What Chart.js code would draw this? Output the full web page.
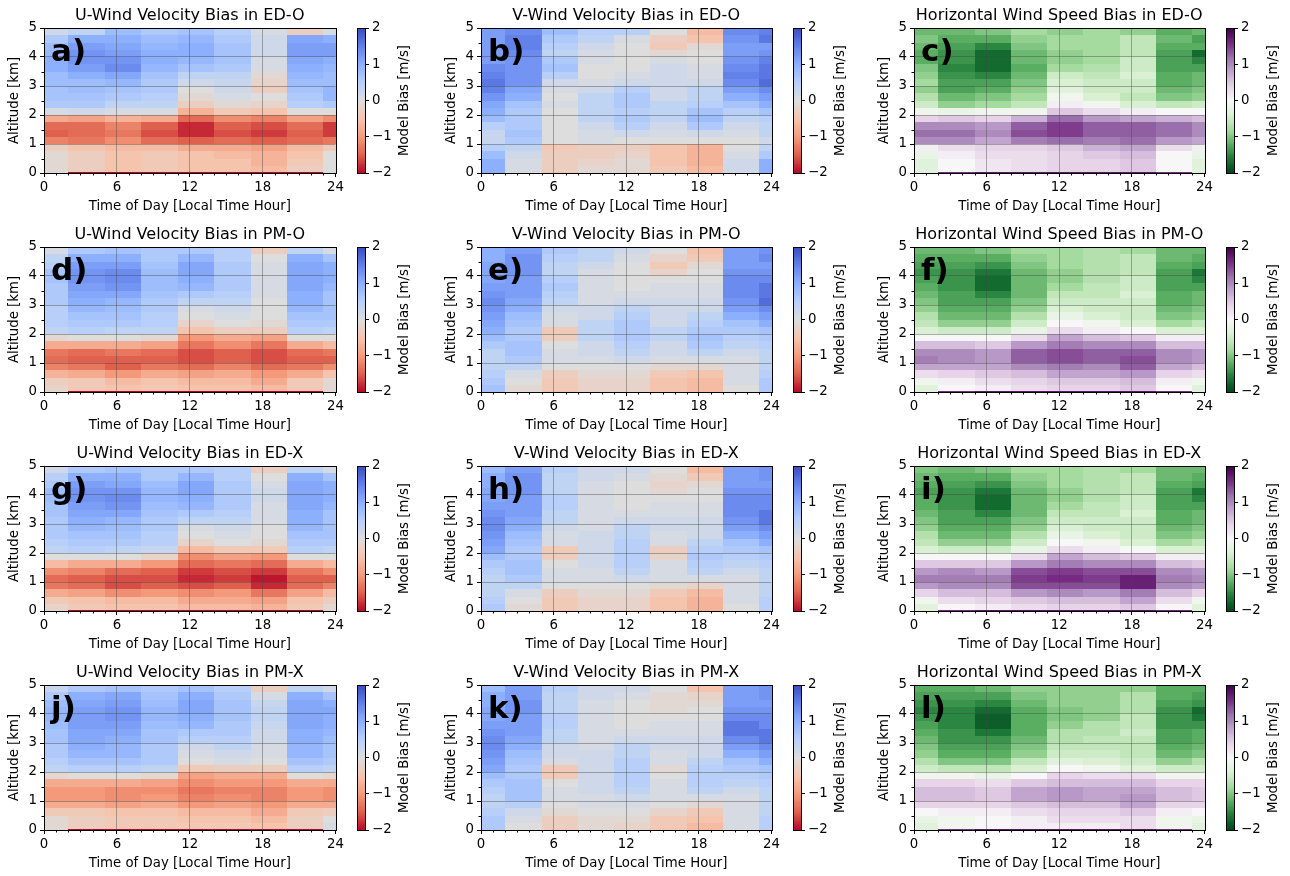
<!DOCTYPE html>
<html lang="en">
<head>
<meta charset="UTF-8">
<title>Model wind bias by time of day and altitude</title>
<script src="https://cdn.jsdelivr.net/npm/chart.js"></script>
<style>
  body { margin: 0; background: #fff; width: 1290px; height: 876px; position: relative; overflow: hidden; }
  canvas { position: absolute; }
</style>
</head>
<body>
<script>
// cell edges: local time hour (x) and altitude in km (y)
const hourEdges = [0, 2, 5, 8, 11, 14, 17, 20, 23, 24];
const altEdges = [0, 0.05, 0.25, 0.5, 0.75, 1, 1.25, 1.5, 1.75, 2, 2.25, 2.5, 2.75, 3, 3.25, 3.5, 3.75, 4, 4.25, 4.5, 4.75, 5];
const hourTicks = [0, 6, 12, 18, 24];
const altTicks = [0, 1, 2, 3, 4, 5];
const biasTicks = [-2, -1, 0, 1, 2];

// bias [m/s]; one array per time column, values from the ground up
const uEDO = [
  [0, -0.1, -0.1, -0.1, -0.3, -1.2, -1.5, -1.4, -0.8, 0.1, 0.6, 0.7, 0.7, 0.8, 0.8, 1.0, 1.0, 0.9, 0.8, 0.6, 0.2],
  [-2, -0.3, -0.3, -0.3, -0.5, -1.3, -1.4, -1.4, -0.9, 0.2, 0.6, 0.7, 0.8, 0.8, 1.0, 1.2, 1.3, 1.3, 1.2, 1.0, 0.4],
  [-2, -0.5, -0.5, -0.5, -0.6, -1.1, -1.3, -1.2, -0.7, 0.1, 0.4, 0.6, 0.7, 0.9, 1.1, 1.4, 1.3, 1.2, 1.1, 1.0, 0.8],
  [-2, -0.4, -0.4, -0.4, -0.6, -1.4, -1.6, -1.5, -0.8, 0.1, 0.4, 0.5, 0.6, 0.6, 0.7, 0.9, 1.0, 1.0, 0.9, 0.8, 0.6],
  [-2, -0.5, -0.5, -0.5, -0.8, -1.5, -1.8, -1.8, -1.4, -0.7, -0.3, -0.1, 0.0, 0.2, 0.4, 0.7, 0.9, 1.0, 1.0, 0.9, 0.7],
  [-2, -0.5, -0.5, -0.6, -0.8, -1.4, -1.6, -1.5, -1.1, -0.4, -0.1, 0.1, 0.2, 0.3, 0.4, 0.6, 0.7, 0.7, 0.7, 0.6, 0.5],
  [-2, -0.6, -0.7, -0.7, -0.9, -1.5, -1.7, -1.6, -1.2, -0.5, -0.2, 0.0, -0.3, -0.2, -0.1, 0.1, 0.1, 0.2, 0.2, 0.2, 0.1],
  [-2, -0.3, -0.4, -0.5, -0.6, -1.4, -1.5, -1.4, -0.9, 0.0, 0.5, 0.6, 0.7, 0.8, 0.9, 1.0, 1.1, 1.2, 1.2, 1.1, -0.3],
  [0, 0, 0, 0, -0.4, -1.3, -1.7, -1.7, -1.1, 0.0, 0.6, 0.9, 0.9, 0.8, 0.8, 0.9, 1.0, 1.2, 1.2, 1.0, 0.1]
];
const vEDO = [
  [1.0, 1.0, 1.0, 0.8, 0.5, 0.3, 0.3, 0.5, 0.8, 1.0, 1.1, 1.3, 1.5, 1.6, 1.5, 1.4, 1.2, 1.2, 1.2, 1.2, 1.2],
  [0, 0.1, 0.1, 0.2, 0.4, 0.6, 0.7, 0.6, 0.6, 0.6, 0.7, 1.0, 1.1, 1.3, 1.3, 1.3, 1.3, 1.4, 1.5, 1.5, 1.4],
  [-0.5, -0.3, -0.3, -0.3, -0.4, 0.0, 0.0, 0.0, 0.0, 0.0, 0.1, 0.0, 0.1, 0.2, 0.5, 0.7, 0.6, 0.4, 0.5, 0.6, 0.8],
  [-0.1, -0.1, -0.2, -0.3, -0.3, 0.1, 0.1, 0.2, 0.4, 0.4, 0.4, 0.4, 0.2, 0.1, 0.0, 0.0, 0.1, 0.1, 0.2, 0.4, 0.5],
  [-0.2, -0.1, -0.1, -0.2, -0.3, 0.0, 0.2, 0.5, 0.6, 0.5, 0.6, 0.6, 0.5, 0.2, 0.1, 0.0, 0.0, 0.0, 0.0, 0.1, 0.5],
  [-0.4, -0.4, -0.5, -0.5, -0.5, 0.0, 0.1, 0.2, 0.4, 0.4, 0.4, 0.2, 0.2, 0.2, 0.2, 0.2, 0.1, -0.1, -0.4, -0.3, 0.0],
  [-0.6, -0.6, -0.7, -0.7, -0.7, 0.0, 0.2, 0.6, 0.8, 0.7, 0.5, 0.4, 0.4, 0.2, 0.1, 0.1, 0.0, 0.0, -0.1, -0.5, -0.6],
  [0.1, 0.2, 0.2, 0.1, 0.0, 0.0, 0.1, 0.2, 0.4, 0.5, 0.7, 1.0, 1.2, 1.4, 1.5, 1.4, 1.3, 1.2, 1.2, 1.3, 1.4],
  [1.0, 1.0, 1.0, 0.6, 0.4, 0.2, 0.4, 0.4, 0.5, 0.7, 1.0, 1.2, 1.4, 1.7, 1.6, 1.6, 1.5, 1.3, 1.2, 1.6, 1.5]
];
const wsEDO = [
  [-0.3, -0.3, -0.3, -0.2, 0.1, 1.0, 1.2, 1.0, 0.4, -0.1, -0.5, -0.7, -0.9, -0.8, -0.9, -1.0, -1.2, -1.2, -1.1, -1.0, -1.1],
  [1.6, 0.0, 0.0, 0.1, 0.3, 1.0, 1.2, 1.0, 0.5, -0.2, -0.9, -1.1, -1.3, -1.3, -1.4, -1.5, -1.4, -1.4, -1.3, -1.2, -1.1],
  [1.8, 0.2, 0.2, 0.3, 0.4, 0.8, 1.0, 0.9, 0.4, -0.1, -0.8, -1.0, -1.2, -1.3, -1.5, -1.7, -1.7, -1.7, -1.5, -1.2, -1.0],
  [1.8, 0.3, 0.3, 0.3, 0.4, 1.1, 1.4, 1.3, 0.7, -0.1, -0.6, -0.8, -0.9, -1.0, -1.1, -1.2, -1.1, -1.1, -1.0, -0.9, -0.8],
  [1.8, 0.4, 0.4, 0.4, 0.5, 1.2, 1.5, 1.5, 1.2, 0.5, 0.1, -0.1, -0.3, -0.4, -0.5, -0.8, -0.9, -0.9, -0.8, -0.8, -0.9],
  [1.8, 0.4, 0.4, 0.5, 0.7, 1.1, 1.3, 1.3, 0.9, 0.3, -0.1, -0.4, -0.5, -0.5, -0.6, -0.7, -0.8, -0.8, -0.8, -0.8, -0.8],
  [1.8, 0.5, 0.5, 0.6, 0.8, 1.2, 1.3, 1.3, 0.8, 0.1, -0.4, -0.6, -0.5, -0.5, -0.4, -0.5, -0.5, -0.6, -0.6, -0.6, -0.9],
  [1.6, 0.0, 0.0, 0.0, 0.3, 0.9, 1.2, 1.2, 0.7, 0.0, -0.6, -1.0, -1.1, -1.2, -1.2, -1.3, -1.3, -1.3, -1.2, -1.1, -1.2],
  [-0.3, -0.3, -0.3, -0.2, 0.1, 0.8, 1.0, 1.0, 0.6, 0.0, -0.5, -0.9, -1.0, -1.1, -1.1, -1.3, -1.5, -1.7, -1.2, -1.3, -1.1]
];
const uPMO = [
  [-0.1, -0.2, -0.3, -0.7, -1.2, -1.4, -1.3, -0.8, -0.1, 0.4, 0.5, 0.5, 0.5, 0.6, 0.6, 0.6, 0.7, 0.7, 0.5, 0.4, 0.1],
  [-2, -0.4, -0.4, -0.8, -1.3, -1.5, -1.4, -0.8, 0.0, 0.5, 0.6, 0.7, 0.9, 1.0, 1.1, 1.2, 1.3, 1.3, 1.2, 1.0, 0.6],
  [-2, -0.5, -0.6, -1.0, -1.5, -1.5, -1.3, -0.8, 0.0, 0.4, 0.6, 0.7, 0.8, 0.9, 1.1, 1.3, 1.4, 1.4, 1.2, 1.0, 0.7],
  [-2, -0.4, -0.5, -0.8, -1.3, -1.5, -1.4, -0.9, -0.1, 0.4, 0.5, 0.5, 0.6, 0.6, 0.7, 0.8, 0.8, 0.8, 0.7, 0.6, 0.6],
  [-2, -0.5, -0.6, -0.9, -1.4, -1.6, -1.6, -1.3, -1.0, -0.5, -0.2, 0.0, 0.1, 0.4, 0.6, 0.9, 1.0, 1.1, 1.1, 0.9, 0.6],
  [-2, -0.5, -0.6, -0.8, -1.2, -1.5, -1.5, -1.1, -0.8, -0.3, 0.0, 0.1, 0.2, 0.4, 0.5, 0.6, 0.6, 0.6, 0.6, 0.5, 0.5],
  [-2, -0.6, -0.8, -1.0, -1.4, -1.6, -1.6, -1.3, -0.9, -0.3, -0.1, 0.0, 0.0, 0.0, 0.1, 0.1, 0.1, 0.1, 0.1, 0.0, -0.3],
  [-2, -0.4, -0.4, -0.8, -1.3, -1.5, -1.4, -0.8, 0.0, 0.5, 0.6, 0.7, 0.9, 1.0, 1.0, 1.1, 1.1, 1.1, 1.1, 1.0, 0.4],
  [-0.1, -0.1, -0.1, -0.5, -1.1, -1.5, -1.3, -0.6, 0.0, 0.4, 0.6, 0.7, 0.7, 0.7, 0.7, 0.9, 1.0, 1.0, 1.0, 0.7, 0.1]
];
const vPMO = [
  [0.7, 0.7, 0.6, 0.5, 0.4, 0.4, 0.4, 0.6, 0.8, 1.0, 1.1, 1.2, 1.3, 1.4, 1.3, 1.2, 1.1, 1.1, 1.1, 1.0, 1.0],
  [0.0, -0.1, 0.0, 0.1, 0.4, 0.6, 0.7, 0.7, 0.6, 0.6, 0.7, 0.8, 1.0, 1.1, 1.2, 1.2, 1.2, 1.3, 1.3, 1.3, 1.2],
  [-0.5, -0.4, -0.4, -0.3, 0.0, 0.1, 0.1, 0.0, -0.3, -0.4, 0.1, 0.1, 0.2, 0.4, 0.5, 0.6, 0.5, 0.4, 0.4, 0.5, 0.6],
  [-0.2, -0.2, -0.2, -0.1, 0.0, 0.1, 0.2, 0.2, 0.4, 0.4, 0.4, 0.2, 0.2, 0.1, 0.1, 0.1, 0.1, 0.1, 0.2, 0.4, 0.4],
  [-0.2, -0.2, -0.2, -0.1, 0.0, 0.2, 0.4, 0.5, 0.6, 0.6, 0.6, 0.5, 0.4, 0.2, 0.1, 0.0, 0.0, 0.0, 0.0, 0.1, 0.2],
  [-0.5, -0.5, -0.5, -0.4, -0.1, 0.1, 0.2, 0.2, 0.4, 0.4, 0.2, 0.2, 0.2, 0.2, 0.1, 0.1, 0.0, -0.2, -0.4, -0.2, 0.0],
  [-0.6, -0.6, -0.6, -0.5, -0.1, 0.1, 0.4, 0.6, 0.7, 0.6, 0.5, 0.4, 0.2, 0.2, 0.1, 0.1, 0.0, 0.0, -0.1, -0.4, -0.5],
  [0.0, 0.0, 0.1, 0.1, 0.1, 0.1, 0.2, 0.4, 0.5, 0.6, 0.7, 1.0, 1.2, 1.3, 1.4, 1.4, 1.4, 1.3, 1.2, 1.2, 1.2],
  [0.6, 0.6, 0.6, 0.5, 0.4, 0.4, 0.4, 0.5, 0.6, 0.7, 1.0, 1.2, 1.4, 1.7, 1.6, 1.6, 1.4, 1.3, 1.2, 1.4, 1.3]
];
const wsPMO = [
  [-0.3, -0.3, -0.1, 0.3, 0.8, 1.1, 1.0, 0.6, 0.0, -0.4, -0.6, -0.7, -0.9, -1.0, -1.1, -1.2, -1.3, -1.4, -1.3, -1.2, -1.1],
  [1.6, 0.0, 0.1, 0.4, 0.8, 1.0, 1.0, 0.6, 0.0, -0.5, -0.9, -1.1, -1.2, -1.3, -1.3, -1.4, -1.4, -1.4, -1.3, -1.2, -1.1],
  [1.8, 0.1, 0.3, 0.5, 0.8, 0.9, 0.9, 0.5, 0.0, -0.5, -0.9, -1.1, -1.2, -1.3, -1.5, -1.7, -1.7, -1.6, -1.4, -1.2, -1.0],
  [1.8, 0.3, 0.4, 0.6, 1.0, 1.3, 1.3, 0.9, 0.3, -0.2, -0.5, -0.7, -0.9, -1.0, -1.1, -1.1, -1.1, -1.1, -1.0, -0.9, -0.8],
  [1.8, 0.4, 0.5, 0.8, 1.1, 1.4, 1.4, 1.1, 0.8, 0.3, 0.0, -0.2, -0.4, -0.5, -0.6, -0.8, -0.9, -0.9, -0.8, -0.8, -0.8],
  [1.8, 0.4, 0.5, 0.8, 1.0, 1.3, 1.3, 1.0, 0.6, 0.1, -0.1, -0.4, -0.5, -0.5, -0.6, -0.6, -0.7, -0.7, -0.7, -0.7, -0.7],
  [1.8, 0.5, 0.6, 0.9, 1.3, 1.4, 1.3, 1.0, 0.5, 0.0, -0.4, -0.5, -0.5, -0.5, -0.4, -0.5, -0.5, -0.6, -0.6, -0.6, -0.8],
  [1.6, 0.0, 0.1, 0.4, 0.8, 1.0, 1.0, 0.6, 0.1, -0.4, -0.8, -1.0, -1.1, -1.2, -1.2, -1.3, -1.3, -1.3, -1.2, -1.1, -1.1],
  [-0.3, -0.3, -0.1, 0.3, 0.6, 0.9, 0.9, 0.6, 0.1, -0.4, -0.6, -0.9, -1.0, -1.1, -1.1, -1.3, -1.5, -1.6, -1.3, -1.2, -1.1]
];
const uEDX = [
  [-0.1, -0.2, -0.4, -0.8, -1.3, -1.4, -1.1, -0.6, 0.0, 0.4, 0.5, 0.6, 0.6, 0.6, 0.7, 0.7, 0.8, 0.8, 0.6, 0.5, 0.2],
  [-2, -0.4, -0.5, -0.9, -1.4, -1.5, -1.2, -0.8, 0.0, 0.5, 0.6, 0.7, 0.9, 1.0, 1.1, 1.2, 1.3, 1.3, 1.2, 1.0, 0.6],
  [-2, -0.5, -0.6, -1.1, -1.6, -1.6, -1.4, -0.8, 0.0, 0.4, 0.6, 0.7, 0.8, 0.9, 1.1, 1.3, 1.4, 1.3, 1.1, 1.0, 0.7],
  [-2, -0.5, -0.6, -1.0, -1.5, -1.6, -1.5, -1.0, -0.2, 0.3, 0.5, 0.5, 0.6, 0.6, 0.7, 0.8, 0.9, 0.9, 0.8, 0.6, 0.6],
  [-2, -0.6, -0.8, -1.1, -1.6, -1.8, -1.7, -1.4, -1.1, -0.6, -0.2, 0.0, 0.1, 0.4, 0.6, 0.9, 1.0, 1.1, 1.1, 0.9, 0.6],
  [-2, -0.6, -0.8, -1.0, -1.5, -1.7, -1.6, -1.3, -0.9, -0.4, 0.0, 0.1, 0.2, 0.4, 0.5, 0.6, 0.6, 0.6, 0.6, 0.5, 0.5],
  [-2, -0.7, -0.9, -1.3, -1.8, -1.9, -1.7, -1.4, -1.0, -0.4, -0.1, 0.0, 0.0, 0.1, 0.1, 0.1, 0.2, 0.2, 0.1, 0.0, -0.3],
  [-2, -0.4, -0.5, -0.9, -1.4, -1.5, -1.3, -0.8, 0.0, 0.5, 0.6, 0.7, 0.9, 1.0, 1.0, 1.1, 1.1, 1.1, 1.1, 1.0, 0.4],
  [-0.1, -0.1, -0.3, -0.6, -1.2, -1.5, -1.1, -0.6, 0.0, 0.4, 0.6, 0.7, 0.7, 0.7, 0.7, 0.9, 1.0, 1.0, 1.0, 0.7, 0.1]
];
const vEDX = [
  [0.6, 0.6, 0.5, 0.4, 0.4, 0.4, 0.5, 0.6, 0.8, 1.1, 1.2, 1.3, 1.4, 1.4, 1.3, 1.2, 1.1, 1.1, 1.0, 1.0, 0.8],
  [0.0, -0.1, 0.0, 0.1, 0.4, 0.6, 0.7, 0.7, 0.6, 0.6, 0.7, 0.8, 1.0, 1.1, 1.2, 1.2, 1.2, 1.3, 1.3, 1.3, 1.2],
  [-0.5, -0.4, -0.4, -0.3, 0.0, 0.1, 0.1, 0.0, -0.3, -0.4, 0.1, 0.1, 0.2, 0.4, 0.4, 0.5, 0.5, 0.4, 0.4, 0.4, 0.5],
  [-0.2, -0.2, -0.2, -0.1, 0.0, 0.1, 0.1, 0.2, 0.2, 0.2, 0.2, 0.2, 0.1, 0.1, 0.1, 0.1, 0.1, 0.1, 0.1, 0.2, 0.2],
  [-0.4, -0.2, -0.2, -0.1, 0.0, 0.2, 0.4, 0.5, 0.5, 0.5, 0.5, 0.4, 0.4, 0.2, 0.1, 0.0, 0.0, 0.0, 0.0, 0.1, 0.2],
  [-0.6, -0.5, -0.5, -0.4, -0.1, 0.1, 0.1, 0.1, -0.2, -0.3, 0.1, 0.1, 0.2, 0.2, 0.1, 0.1, 0.0, -0.1, -0.2, -0.1, 0.0],
  [-0.7, -0.7, -0.7, -0.6, -0.2, 0.1, 0.4, 0.5, 0.6, 0.5, 0.4, 0.2, 0.2, 0.2, 0.1, 0.1, 0.0, 0.0, -0.1, -0.4, -0.6],
  [0.0, 0.0, 0.1, 0.1, 0.1, 0.1, 0.2, 0.4, 0.5, 0.6, 0.7, 1.0, 1.2, 1.3, 1.4, 1.4, 1.4, 1.3, 1.2, 1.2, 1.2],
  [0.5, 0.5, 0.5, 0.4, 0.4, 0.4, 0.4, 0.5, 0.6, 0.7, 1.0, 1.2, 1.4, 1.6, 1.6, 1.4, 1.4, 1.3, 1.2, 1.3, 1.3]
];
const wsEDX = [
  [-0.3, -0.3, -0.1, 0.4, 0.9, 1.1, 0.9, 0.5, 0.0, -0.4, -0.6, -0.7, -0.9, -1.0, -1.1, -1.2, -1.2, -1.3, -1.2, -1.1, -1.0],
  [1.6, 0.0, 0.3, 0.6, 1.0, 1.1, 1.0, 0.5, 0.0, -0.5, -0.9, -1.1, -1.2, -1.3, -1.3, -1.4, -1.4, -1.4, -1.3, -1.2, -1.1],
  [1.8, 0.1, 0.4, 0.6, 1.0, 1.1, 0.9, 0.5, 0.0, -0.5, -0.9, -1.1, -1.2, -1.3, -1.5, -1.7, -1.7, -1.6, -1.4, -1.2, -1.0],
  [1.8, 0.3, 0.5, 0.9, 1.4, 1.5, 1.4, 0.9, 0.3, -0.2, -0.5, -0.7, -0.9, -1.0, -1.1, -1.1, -1.1, -1.1, -1.0, -0.9, -0.8],
  [1.8, 0.4, 0.6, 1.0, 1.4, 1.6, 1.5, 1.1, 0.8, 0.3, 0.0, -0.2, -0.4, -0.5, -0.6, -0.8, -0.9, -0.9, -0.8, -0.8, -0.8],
  [1.8, 0.4, 0.6, 0.9, 1.4, 1.5, 1.4, 1.0, 0.6, 0.1, -0.1, -0.4, -0.5, -0.5, -0.6, -0.6, -0.7, -0.7, -0.7, -0.7, -0.7],
  [1.8, 0.5, 0.8, 1.1, 1.7, 1.7, 1.4, 1.0, 0.5, 0.0, -0.4, -0.5, -0.5, -0.5, -0.4, -0.5, -0.5, -0.6, -0.6, -0.6, -0.8],
  [1.6, 0.0, 0.3, 0.6, 1.0, 1.1, 1.0, 0.6, 0.1, -0.4, -0.8, -1.0, -1.1, -1.2, -1.2, -1.3, -1.3, -1.3, -1.2, -1.1, -1.1],
  [-0.3, -0.3, -0.1, 0.4, 0.9, 1.0, 0.9, 0.5, 0.1, -0.4, -0.6, -0.9, -1.0, -1.1, -1.1, -1.3, -1.5, -1.6, -1.3, -1.2, -1.1]
];
const uPMX = [
  [-0.1, -0.1, -0.1, -0.4, -0.8, -1.0, -1.0, -0.8, -0.1, 0.4, 0.5, 0.6, 0.6, 0.7, 0.7, 0.8, 0.9, 0.9, 0.8, 0.6, 0.3],
  [-2, -0.3, -0.3, -0.4, -0.8, -1.0, -1.0, -0.8, 0.0, 0.5, 0.7, 0.9, 1.0, 1.1, 1.1, 1.2, 1.2, 1.2, 1.1, 1.0, 0.6],
  [-2, -0.4, -0.4, -0.5, -0.9, -1.1, -1.1, -0.8, 0.0, 0.5, 0.7, 0.9, 0.9, 1.0, 1.1, 1.2, 1.3, 1.3, 1.2, 1.1, 0.7],
  [-2, -0.4, -0.4, -0.5, -0.8, -1.0, -1.1, -0.9, -0.1, 0.4, 0.6, 0.6, 0.6, 0.7, 0.7, 0.8, 0.9, 0.9, 0.8, 0.7, 0.6],
  [-2, -0.4, -0.5, -0.6, -1.0, -1.2, -1.3, -1.1, -0.9, -0.4, 0.0, 0.1, 0.2, 0.5, 0.6, 0.9, 1.0, 1.1, 1.1, 1.0, 0.7],
  [-2, -0.4, -0.5, -0.6, -0.9, -1.1, -1.2, -1.0, -0.8, -0.3, 0.1, 0.2, 0.4, 0.5, 0.6, 0.6, 0.7, 0.7, 0.7, 0.6, 0.5],
  [-2, -0.5, -0.6, -0.8, -1.0, -1.2, -1.2, -1.0, -0.8, -0.3, 0.0, 0.1, 0.1, 0.2, 0.2, 0.3, 0.4, 0.4, 0.3, 0.1, -0.3],
  [-2, -0.3, -0.3, -0.4, -0.8, -1.0, -1.0, -0.8, 0.0, 0.5, 0.7, 0.9, 0.9, 1.0, 1.0, 1.1, 1.1, 1.1, 1.1, 1.0, 0.4],
  [0.1, 0.1, 0.0, -0.3, -0.8, -1.1, -1.1, -0.8, -0.1, 0.4, 0.6, 0.7, 0.7, 0.8, 0.9, 1.0, 1.0, 1.1, 1.0, 0.7, 0.2]
];
const vPMX = [
  [0.6, 0.6, 0.6, 0.5, 0.4, 0.4, 0.5, 0.6, 0.8, 1.1, 1.2, 1.3, 1.4, 1.4, 1.3, 1.2, 1.1, 1.1, 1.0, 1.0, 0.8],
  [0.0, 0.0, 0.1, 0.2, 0.5, 0.7, 0.7, 0.7, 0.6, 0.6, 0.7, 0.8, 1.0, 1.1, 1.2, 1.2, 1.2, 1.3, 1.3, 1.2, 1.2],
  [-0.4, -0.3, -0.3, -0.1, 0.0, 0.1, 0.1, 0.0, -0.4, -0.4, 0.1, 0.2, 0.2, 0.4, 0.4, 0.5, 0.5, 0.4, 0.4, 0.4, 0.5],
  [-0.1, -0.1, -0.1, 0.0, 0.1, 0.1, 0.2, 0.2, 0.2, 0.2, 0.2, 0.2, 0.1, 0.1, 0.1, 0.1, 0.1, 0.1, 0.1, 0.2, 0.2],
  [-0.2, -0.2, -0.1, 0.0, 0.1, 0.2, 0.4, 0.5, 0.5, 0.5, 0.5, 0.4, 0.4, 0.2, 0.1, 0.0, 0.0, 0.0, 0.0, 0.1, 0.2],
  [-0.5, -0.4, -0.4, -0.2, 0.0, 0.1, 0.1, 0.1, 0.0, -0.1, 0.1, 0.1, 0.2, 0.2, 0.1, 0.1, 0.0, -0.1, -0.1, -0.1, 0.0],
  [-0.6, -0.6, -0.5, -0.4, -0.1, 0.1, 0.4, 0.5, 0.5, 0.5, 0.4, 0.2, 0.2, 0.2, 0.1, 0.1, 0.0, 0.0, -0.1, -0.2, -0.5],
  [0.0, 0.1, 0.1, 0.1, 0.1, 0.1, 0.2, 0.4, 0.5, 0.6, 0.7, 1.0, 1.2, 1.4, 1.6, 1.6, 1.4, 1.3, 1.2, 1.2, 1.2],
  [0.5, 0.5, 0.5, 0.4, 0.4, 0.4, 0.4, 0.5, 0.6, 0.7, 1.0, 1.2, 1.4, 1.6, 1.6, 1.4, 1.4, 1.3, 1.2, 1.3, 1.3]
];
const wsPMX = [
  [-0.3, -0.3, -0.2, 0.0, 0.4, 0.6, 0.6, 0.4, -0.1, -0.5, -0.7, -0.9, -1.0, -1.1, -1.2, -1.3, -1.4, -1.5, -1.4, -1.3, -1.2],
  [1.6, -0.1, -0.1, 0.1, 0.4, 0.6, 0.6, 0.4, -0.1, -0.6, -1.0, -1.2, -1.3, -1.4, -1.4, -1.5, -1.5, -1.5, -1.4, -1.3, -1.2],
  [1.8, 0.0, 0.0, 0.1, 0.4, 0.5, 0.5, 0.3, -0.2, -0.6, -1.0, -1.2, -1.3, -1.4, -1.6, -1.8, -1.8, -1.7, -1.5, -1.3, -1.1],
  [1.8, 0.1, 0.1, 0.3, 0.5, 0.8, 0.8, 0.5, 0.0, -0.4, -0.6, -0.9, -1.0, -1.1, -1.2, -1.2, -1.2, -1.2, -1.1, -1.0, -0.9],
  [1.8, 0.1, 0.3, 0.4, 0.6, 0.9, 0.9, 0.6, 0.4, 0.0, -0.3, -0.5, -0.6, -0.7, -0.7, -0.9, -1.0, -1.0, -0.9, -0.9, -0.9],
  [1.8, 0.1, 0.3, 0.4, 0.6, 0.8, 0.8, 0.6, 0.3, -0.1, -0.4, -0.5, -0.6, -0.6, -0.7, -0.7, -0.9, -0.9, -0.9, -0.9, -0.9],
  [1.8, 0.3, 0.3, 0.5, 0.8, 0.9, 0.8, 0.6, 0.3, -0.3, -0.5, -0.6, -0.6, -0.6, -0.5, -0.6, -0.6, -0.7, -0.7, -0.7, -0.9],
  [1.6, -0.1, -0.1, 0.1, 0.4, 0.6, 0.6, 0.4, -0.1, -0.5, -0.9, -1.1, -1.2, -1.3, -1.3, -1.4, -1.4, -1.4, -1.3, -1.2, -1.2],
  [-0.3, -0.3, -0.2, 0.0, 0.4, 0.5, 0.5, 0.4, -0.1, -0.5, -0.7, -1.0, -1.1, -1.2, -1.2, -1.4, -1.6, -1.7, -1.4, -1.3, -1.2]
];

// colormap anchor colours (low -> high), used reversed
const coolwarm = [[59,76,192],[98,130,234],[141,176,254],[184,208,249],[221,221,221],[245,196,173],[244,154,123],[222,96,77],[180,4,38]];
const prgn = [[64,0,75],[118,42,131],[153,112,171],[194,165,207],[231,212,232],[247,247,247],[217,240,211],[166,219,160],[90,174,97],[27,120,55],[0,68,27]];

function colorFor(stops, v) {
  const t = 1 - (Math.max(-2, Math.min(2, v)) + 2) / 4;
  const f = t * (stops.length - 1);
  const i = Math.min(stops.length - 2, Math.floor(f));
  const k = f - i;
  const a = stops[i], b = stops[i + 1];
  return 'rgb(' + a.map((c, j) => Math.round(c + (b[j] - c) * k)).join(',') + ')';
}

const panels = [
  { label: 'a)', title: 'U-Wind Velocity Bias in ED-O', values: uEDO, cmap: coolwarm },
  { label: 'b)', title: 'V-Wind Velocity Bias in ED-O', values: vEDO, cmap: coolwarm },
  { label: 'c)', title: 'Horizontal Wind Speed Bias in ED-O', values: wsEDO, cmap: prgn },
  { label: 'd)', title: 'U-Wind Velocity Bias in PM-O', values: uPMO, cmap: coolwarm },
  { label: 'e)', title: 'V-Wind Velocity Bias in PM-O', values: vPMO, cmap: coolwarm },
  { label: 'f)', title: 'Horizontal Wind Speed Bias in PM-O', values: wsPMO, cmap: prgn },
  { label: 'g)', title: 'U-Wind Velocity Bias in ED-X', values: uEDX, cmap: coolwarm },
  { label: 'h)', title: 'V-Wind Velocity Bias in ED-X', values: vEDX, cmap: coolwarm },
  { label: 'i)', title: 'Horizontal Wind Speed Bias in ED-X', values: wsEDX, cmap: prgn },
  { label: 'j)', title: 'U-Wind Velocity Bias in PM-X', values: uPMX, cmap: coolwarm },
  { label: 'k)', title: 'V-Wind Velocity Bias in PM-X', values: vPMX, cmap: coolwarm },
  { label: 'l)', title: 'Horizontal Wind Speed Bias in PM-X', values: wsPMX, cmap: prgn }
];

// page layout
const colLeft = [44, 481, 914];
const colWidth = [295, 294, 294];
const barLeft = [357, 793, 1226];
const rowTop = [28, 247, 466, 685];
const plotH = 145;
const padL = 44, padT = 28, padB = 46, padR = 8;

Chart.defaults.font.family = 'DejaVu Sans';
Chart.defaults.color = '#000';
const tickFont = { size: 13.3 };
const gridColor = 'rgba(70,70,70,0.42)';

const heatmap = {
  id: 'heatmap',
  beforeDraw(chart, args, opts) {
    const { ctx } = chart;
    const xs = chart.scales.x, ys = chart.scales.y;
    opts.values.forEach((col, c) => {
      const x0 = Math.round(xs.getPixelForValue(hourEdges[c]));
      const x1 = Math.round(xs.getPixelForValue(hourEdges[c + 1]));
      col.forEach((v, r) => {
        const y0 = Math.round(ys.getPixelForValue(altEdges[r]));
        const y1 = Math.round(ys.getPixelForValue(altEdges[r + 1]));
        ctx.fillStyle = colorFor(opts.cmap, v);
        ctx.fillRect(x0, y1, x1 - x0, y0 - y1);
      });
    });
  },
  afterDraw(chart, args, opts) {
    const { ctx, chartArea: a } = chart;
    const xs = chart.scales.x, ys = chart.scales.y;
    ctx.save();
    ctx.strokeStyle = '#000';
    ctx.lineWidth = 1;
    ctx.beginPath();
    // minor ticks: every hour, every half km
    for (let h = 1; h < 24; h++) {
      if (h % 6 === 0) continue;
      const x = Math.round(xs.getPixelForValue(h)) + 0.5;
      ctx.moveTo(x, a.bottom); ctx.lineTo(x, a.bottom + 2.5);
    }
    for (let z = 0.5; z < 5; z += 1) {
      const y = Math.round(ys.getPixelForValue(z)) + 0.5;
      ctx.moveTo(a.left, y); ctx.lineTo(a.left - 2.5, y);
    }
    ctx.stroke();
    ctx.strokeRect(Math.round(a.left) + 0.5, Math.round(a.top) + 0.5, Math.round(a.right - a.left), Math.round(a.bottom - a.top));

    const cx = (a.left + a.right) / 2;
    ctx.fillStyle = '#000';
    ctx.textAlign = 'center';
    ctx.textBaseline = 'alphabetic';
    ctx.font = '16px "DejaVu Sans"';
    ctx.fillText(opts.title, cx, a.top - 8.5);
    ctx.font = '13.3px "DejaVu Sans"';
    ctx.fillText('Time of Day [Local Time Hour]', cx, a.bottom + 36.5);
    ctx.save();
    ctx.translate(a.left - 29, (a.top + a.bottom) / 2);
    ctx.rotate(-Math.PI / 2);
    ctx.textBaseline = 'middle';
    ctx.fillText('Altitude [km]', 0, 0);
    ctx.restore();
    ctx.textAlign = 'left';
    ctx.font = 'bold 31px "DejaVu Sans"';
    ctx.fillText(opts.label, a.left + 7, a.top + 33);
    ctx.restore();
  }
};

const colorbar = {
  id: 'colorbar',
  beforeDraw(chart, args, opts) {
    const { ctx, chartArea: a } = chart;
    const ys = chart.scales.y;
    const steps = 160;
    for (let i = 0; i < steps; i++) {
      const v0 = -2 + 4 * i / steps, v1 = -2 + 4 * (i + 1) / steps;
      const y0 = ys.getPixelForValue(v0), y1 = ys.getPixelForValue(v1);
      ctx.fillStyle = colorFor(opts.cmap, (v0 + v1) / 2);
      ctx.fillRect(a.left, Math.floor(y1), a.right - a.left, Math.ceil(y0) - Math.floor(y1));
    }
  },
  afterDraw(chart, args, opts) {
    const { ctx, chartArea: a } = chart;
    ctx.save();
    ctx.strokeStyle = '#000';
    ctx.lineWidth = 1;
    ctx.strokeRect(Math.round(a.left) + 0.5, Math.round(a.top) + 0.5, Math.round(a.right - a.left), Math.round(a.bottom - a.top));
    ctx.translate(a.right + 40, (a.top + a.bottom) / 2);
    ctx.rotate(-Math.PI / 2);
    ctx.fillStyle = '#000';
    ctx.font = '13.3px "DejaVu Sans"';
    ctx.textAlign = 'center';
    ctx.textBaseline = 'middle';
    ctx.fillText('Model Bias [m/s]', 0, 0);
    ctx.restore();
  }
};

function addCanvas(left, top, w, h) {
  const cv = document.createElement('canvas');
  cv.width = w; cv.height = h;
  cv.style.left = left + 'px';
  cv.style.top = top + 'px';
  document.body.appendChild(cv);
  return cv;
}

function edgeHidden(lo, hi) {
  return c => (c.tick && (c.tick.value === lo || c.tick.value === hi)) ? 'rgba(0,0,0,0)' : gridColor;
}

panels.forEach((p, i) => {
  const row = Math.floor(i / 3), col = i % 3;
  const w = colWidth[col];
  const cv = addCanvas(colLeft[col] - padL, rowTop[row] - padT, padL + w + padR, padT + plotH + padB);
  new Chart(cv, {
    type: 'scatter',
    data: { datasets: [{ data: [] }] },
    options: {
      responsive: false, animation: false, devicePixelRatio: 1,
      events: [],
      layout: { padding: { left: 0, right: padR, top: padT, bottom: 0 } },
      plugins: {
        legend: { display: false }, tooltip: { enabled: false },
        heatmap: { values: p.values, cmap: p.cmap, title: p.title, label: p.label }
      },
      scales: {
        x: {
          type: 'linear', min: hourTicks[0], max: hourTicks[hourTicks.length - 1],
          afterFit: s => { s.height = padB; },
          ticks: { stepSize: hourTicks[1] - hourTicks[0], font: tickFont, padding: 3, maxRotation: 0 },
          grid: { color: edgeHidden(0, 24), lineWidth: 1, tickLength: 4, tickColor: '#000', tickWidth: 1 },
          border: { display: false }
        },
        y: {
          type: 'linear', min: altTicks[0], max: altTicks[altTicks.length - 1],
          afterFit: s => { s.width = padL; },
          ticks: { stepSize: altTicks[1] - altTicks[0], font: tickFont, padding: 3 },
          grid: { color: edgeHidden(0, 5), lineWidth: 1, tickLength: 4, tickColor: '#000', tickWidth: 1 },
          border: { display: false }
        }
      }
    },
    plugins: [heatmap]
  });

  const bw = 8, bRight = 62;
  const cb = addCanvas(barLeft[col] - 1, rowTop[row] - padT, 1 + bw + bRight, padT + plotH + padB);
  new Chart(cb, {
    type: 'scatter',
    data: { datasets: [{ data: [] }] },
    options: {
      responsive: false, animation: false, devicePixelRatio: 1,
      events: [],
      layout: { padding: { left: 1, right: 0, top: padT, bottom: padB } },
      plugins: { legend: { display: false }, tooltip: { enabled: false }, colorbar: { cmap: p.cmap } },
      scales: {
        x: { type: 'linear', display: false, min: 0, max: 1 },
        y: {
          type: 'linear', position: 'right', min: biasTicks[0], max: biasTicks[biasTicks.length - 1],
          afterFit: s => { s.width = bRight; },
          ticks: { stepSize: 1, font: tickFont, padding: 3, callback: v => String(v).replace('-', '\u2212') },
          grid: { drawOnChartArea: false, tickLength: 4, tickColor: '#000', tickWidth: 1 },
          border: { display: false }
        }
      }
    },
    plugins: [colorbar]
  });
});
</script>
</body>
</html>
